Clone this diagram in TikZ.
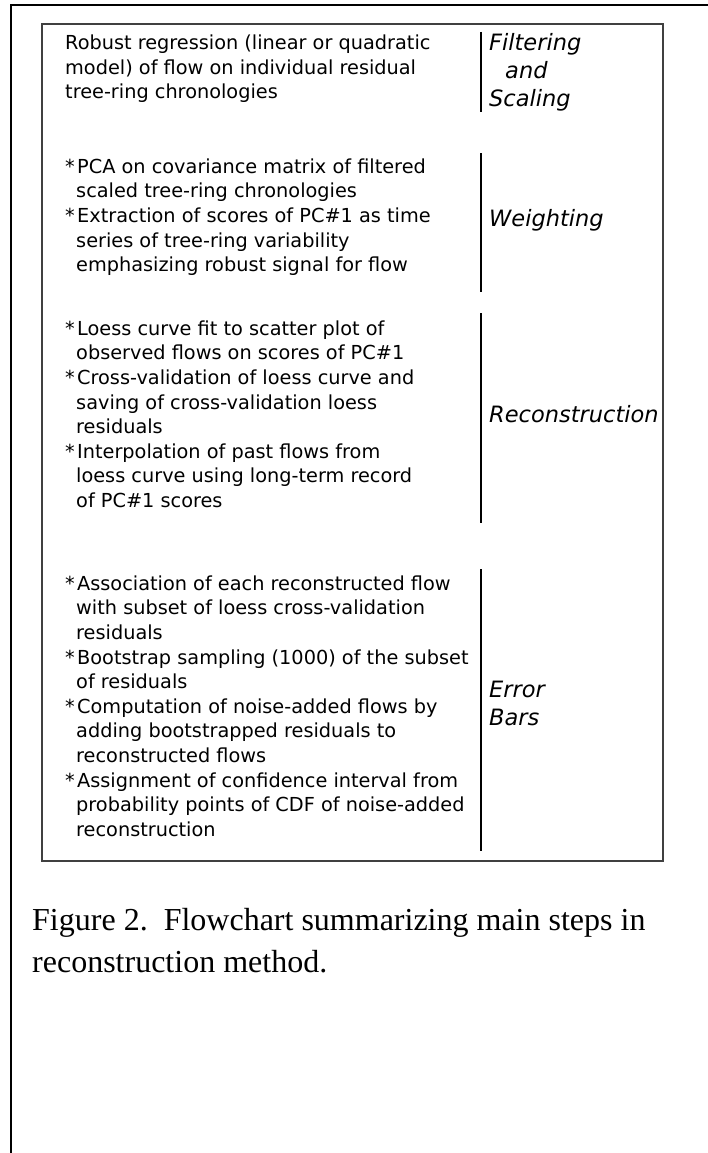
\documentclass[tikz,border=0pt]{standalone}
\usepackage{fontspec}
\newfontfamily\stepfont{DejaVu Sans}
\newfontfamily\capfont{Liberation Serif}
\usetikzlibrary{calc}
\newcommand{\stepmark}{\makebox[12pt][l]{*}}
\newcommand{\stepind}{\hspace*{11pt}}

\begin{document}
\begin{tikzpicture}[x = 1pt, y = -1pt,
    steptext/.style = {anchor = north west, inner sep = 0pt, align = left,
        font = \stepfont\fontsize{19.3}{24.6}\selectfont},
    stagename/.style = {anchor = north west, inner sep = 0pt, align = left,
        font = \stepfont\itshape\fontsize{22.5}{28}\selectfont},
    divider/.style = {line width = 1.3pt}]
        \useasboundingbox(0,0)rectangle(708,1153);
        % outer frame (top and left only)
        \coordinate(P0)at(11,5.5);
        \path[draw, line width = 2pt](708,5.5)to(P0)to(11,1153);
        % inner box
        \coordinate(B1)at(41.5,24);
        \coordinate(B2)at(662.5,861);
        \path[draw, line width = 2pt, draw = black!75](B1)rectangle(B2);
        % dividers
        \path[draw, divider](481,32)to(481,112);
        \path[draw, divider](481,153)to(481,292);
        \path[draw, divider](481,313)to(481,523);
        \path[draw, divider](481,569)to(481,851);
        % steps
        \node[steptext](T1)at(65,32.3){\strut Robust regression (linear or quadratic\\model) of flow on individual residual\\tree-ring chronologies};
        \node[steptext](T2)at(65,155.8){\strut\stepmark PCA on covariance matrix of filtered\\\stepind scaled tree-ring chronologies\\\stepmark Extraction of scores of PC\#1 as time\\\stepind series of tree-ring variability\\\stepind emphasizing robust signal for flow};
        \node[steptext](T3)at(65,317.8){\strut\stepmark Loess curve fit to scatter plot of\\\stepind observed flows on scores of PC\#1\\\stepmark Cross-validation of loess curve and\\\stepind saving of cross-validation loess\\\stepind residuals\\\stepmark Interpolation of past flows from\\\stepind loess curve using long-term record\\\stepind of PC\#1 scores};
        \node[steptext](T4)at(65,572.8){\strut\stepmark Association of each reconstructed flow\\\stepind with subset of loess cross-validation\\\stepind residuals\\\stepmark Bootstrap sampling (1000) of the subset\\\stepind of residuals\\\stepmark Computation of noise-added flows by\\\stepind adding bootstrapped residuals to\\\stepind reconstructed flows\\\stepmark Assignment of confidence interval from\\\stepind probability points of CDF of noise-added\\\stepind reconstruction};
        % stage names
        \node[stagename](L1)at(489,30.4){\strut Filtering\\\hspace*{16pt}and\\Scaling};
        \node[stagename](L2)at(489,206.4){\strut Weighting};
        \node[stagename](L3)at(489,402.4){\strut Reconstruction};
        \node[stagename](L4)at(489,677.4){\strut Error\\Bars};
        % caption
        \node[anchor = north west, inner sep = 0pt, align = left,
            font = \capfont\fontsize{32}{42}\selectfont](C)at(32,901){\strut Figure 2.\ \ Flowchart summarizing main steps in\\reconstruction method.};
\end{tikzpicture}
\end{document}
